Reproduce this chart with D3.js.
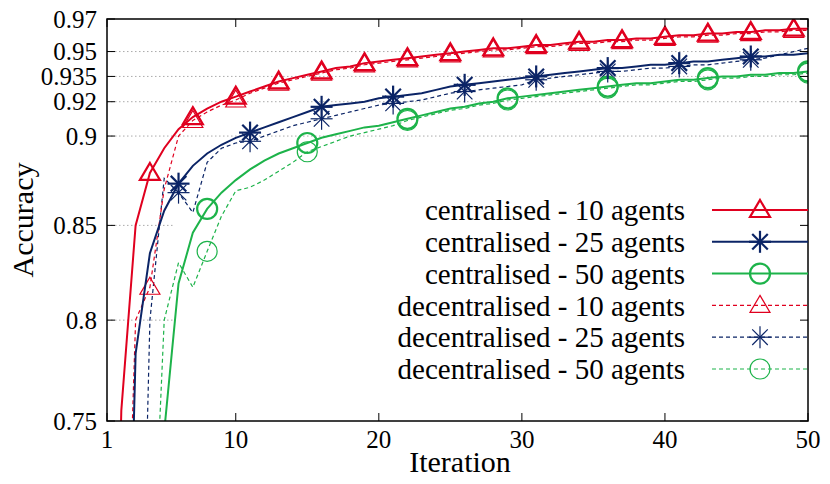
<!DOCTYPE html>
<html><head><meta charset="utf-8">
<script src="https://cdn.jsdelivr.net/npm/d3@7"></script>
<style>body{margin:0;background:#fff}text{font-family:"Liberation Serif","Times New Roman",serif}</style>
</head><body><svg id="chart" width="830" height="484"></svg>
<script>
const xTicks = [1, 10, 20, 30, 40, 50];
const yTicks = [0.75, 0.8, 0.85, 0.9, 0.92, 0.935, 0.95, 0.97];

const c10 = [0.5,0.755,0.85,0.879,0.893,0.904,0.911,0.916,0.920,0.923,0.926,0.929,0.932,0.934,0.936,0.938,0.940,0.941,0.943,0.944,0.945,0.946,0.947,0.948,0.949,0.950,0.951,0.952,0.952,0.953,0.954,0.954,0.955,0.956,0.956,0.957,0.957,0.958,0.958,0.959,0.960,0.960,0.961,0.961,0.962,0.962,0.963,0.963,0.964,0.964];
const c25 = [0.5,0.55,0.783,0.835,0.858,0.873,0.883,0.890,0.895,0.899,0.902,0.905,0.908,0.911,0.914,0.917,0.918,0.919,0.920,0.922,0.923,0.924,0.925,0.927,0.929,0.930,0.931,0.932,0.933,0.934,0.935,0.936,0.937,0.938,0.939,0.940,0.940,0.941,0.942,0.942,0.943,0.944,0.944,0.945,0.946,0.947,0.947,0.948,0.948,0.949];
const c50 = [0.5,0.5,0.5,0.6,0.745,0.819,0.846,0.859,0.868,0.875,0.881,0.886,0.890,0.893,0.896,0.899,0.901,0.903,0.905,0.906,0.908,0.910,0.912,0.914,0.916,0.917,0.919,0.920,0.922,0.923,0.924,0.925,0.926,0.927,0.928,0.929,0.930,0.931,0.931,0.932,0.933,0.933,0.934,0.935,0.935,0.936,0.936,0.937,0.937,0.938];
const d10 = [0.5,0.6,0.80,0.817,0.870,0.900,0.909,0.914,0.918,0.921,0.925,0.928,0.931,0.933,0.935,0.937,0.939,0.940,0.942,0.943,0.944,0.945,0.946,0.947,0.948,0.949,0.950,0.951,0.951,0.952,0.953,0.953,0.954,0.955,0.955,0.956,0.956,0.957,0.957,0.958,0.959,0.959,0.960,0.960,0.961,0.961,0.962,0.962,0.963,0.963];
const d25 = [0.5,0.5,0.55,0.80,0.876,0.868,0.857,0.885,0.893,0.896,0.897,0.900,0.903,0.906,0.908,0.910,0.912,0.914,0.916,0.918,0.919,0.920,0.921,0.923,0.925,0.926,0.927,0.928,0.929,0.930,0.933,0.934,0.935,0.936,0.937,0.938,0.938,0.939,0.940,0.940,0.941,0.942,0.942,0.943,0.944,0.945,0.946,0.948,0.950,0.952];
const d50 = [0.5,0.5,0.5,0.65,0.80,0.83,0.817,0.836,0.855,0.869,0.871,0.875,0.880,0.885,0.891,0.894,0.897,0.900,0.902,0.904,0.906,0.909,0.911,0.913,0.915,0.916,0.918,0.919,0.921,0.922,0.923,0.924,0.925,0.926,0.927,0.928,0.929,0.930,0.930,0.931,0.932,0.932,0.933,0.934,0.934,0.935,0.935,0.936,0.936,0.937];

const series = [
  {name: "centralised - 10 agents", values: c10, color: "#e0001f", dash: null, marker: "tri", marks: [4,7,10,13,16,19,22,25,28,31,34,37,40,43,46,49]},
  {name: "centralised - 25 agents", values: c25, color: "#0b2466", dash: null, marker: "star", marks: [6,11,16,21,26,31,36,41,46]},
  {name: "centralised - 50 agents", values: c50, color: "#1db34a", dash: null, marker: "circ", marks: [8,15,22,29,36,43,50]},
  {name: "decentralised - 10 agents", values: d10, color: "#e0001f", dash: "4,3", marker: "tri", marks: [4,7,10,13,16,19,22,25,28,31,34,37,40,43,46,49]},
  {name: "decentralised - 25 agents", values: d25, color: "#0b2466", dash: "4,3", marker: "star", marks: [6,11,16,21,26,31,36,41,46]},
  {name: "decentralised - 50 agents", values: d50, color: "#1db34a", dash: "4,3", marker: "circ", marks: [8,15,22,29,36,43,50]}
];

const L = 107, R = 808, T = 19, B = 421;
const svg = d3.select("#chart");
const x = d3.scaleLinear().domain([1, 50]).range([L, R]);
const y = d3.scaleLog().domain([0.75, 0.97]).range([B, T]);

svg.append("defs").append("clipPath").attr("id", "clip")
  .append("rect").attr("x", L).attr("y", T).attr("width", R - L).attr("height", B - T);

// grid
svg.append("g").selectAll("line").data(yTicks.slice(1, -1)).join("line")
  .attr("x1", L).attr("x2", R).attr("y1", d => y(d)).attr("y2", d => y(d))
  .attr("stroke", "#aaa").attr("stroke-dasharray", "1.5,2.5");
// legend background hides grid
svg.append("rect").attr("x", 175).attr("y", 192).attr("width", R - 176).attr("height", 196).attr("fill", "#fff");

function drawMarker(g, type, cx, cy, color, thin) {
  const w = thin ? 1.2 : 2.2;
  if (type === "tri") {
    g.append("path").attr("d", `M${cx},${cy - 10}L${cx + 10},${cy + 7}L${cx - 10},${cy + 7}Z`)
      .attr("fill", "none").attr("stroke", color).attr("stroke-width", w);
  } else if (type === "circ") {
    g.append("circle").attr("cx", cx).attr("cy", cy).attr("r", 10)
      .attr("fill", "none").attr("stroke", color).attr("stroke-width", w);
  } else {
    const r = 11;
    [0, 45, 90, 135].forEach(a => {
      const dx = r * Math.cos(a * Math.PI / 180), dy = r * Math.sin(a * Math.PI / 180);
      g.append("line").attr("x1", cx - dx).attr("y1", cy - dy).attr("x2", cx + dx).attr("y2", cy + dy)
        .attr("stroke", color).attr("stroke-width", w);
    });
  }
}

const plot = svg.append("g").attr("clip-path", "url(#clip)");
const line = d3.line().x((d, i) => x(i + 1)).y(d => y(d));
series.slice().reverse().forEach(s => {
  plot.append("path").datum(s.values).attr("d", line)
    .attr("fill", "none").attr("stroke", s.color).attr("stroke-width", s.dash ? 1.2 : 2)
    .attr("stroke-dasharray", s.dash);
  s.marks.forEach(i => drawMarker(plot, s.marker, x(i), y(s.values[i - 1]), s.color, !!s.dash));
});

// frame and ticks
svg.append("rect").attr("x", L).attr("y", T).attr("width", R - L).attr("height", B - T)
  .attr("fill", "none").attr("stroke", "#000").attr("stroke-width", 1.5);
yTicks.forEach(t => {
  svg.append("line").attr("x1", L).attr("x2", L + 8).attr("y1", y(t)).attr("y2", y(t)).attr("stroke", "#000");
  svg.append("line").attr("x1", R - 8).attr("x2", R).attr("y1", y(t)).attr("y2", y(t)).attr("stroke", "#000");
  svg.append("text").attr("x", L - 10).attr("y", y(t)).attr("dy", "0.35em").attr("text-anchor", "end")
    .attr("font-size", 25).text(t);
});
xTicks.forEach(t => {
  svg.append("line").attr("x1", x(t)).attr("x2", x(t)).attr("y1", B).attr("y2", B - 8).attr("stroke", "#000");
  svg.append("line").attr("x1", x(t)).attr("x2", x(t)).attr("y1", T).attr("y2", T + 8).attr("stroke", "#000");
  svg.append("text").attr("x", x(t)).attr("y", B + 27).attr("text-anchor", "middle")
    .attr("font-size", 25).text(t);
});
svg.append("text").attr("transform", "translate(33,220) rotate(-90)").attr("text-anchor", "middle")
  .attr("font-size", 30).text("Accuracy");
svg.append("text").attr("x", 460).attr("y", 472).attr("text-anchor", "middle")
  .attr("font-size", 30).text("Iteration");

// legend
series.forEach((s, i) => {
  const ly = 210 + i * 31.8;
  svg.append("text").attr("x", 685).attr("y", ly).attr("dy", "0.35em").attr("text-anchor", "end")
    .attr("font-size", 29).text(s.name);
  svg.append("line").attr("x1", 712).attr("x2", 808).attr("y1", ly).attr("y2", ly)
    .attr("stroke", s.color).attr("stroke-width", s.dash ? 1.2 : 2).attr("stroke-dasharray", s.dash);
  drawMarker(svg, s.marker, 760, ly, s.color, !!s.dash);
});
</script></body></html>
